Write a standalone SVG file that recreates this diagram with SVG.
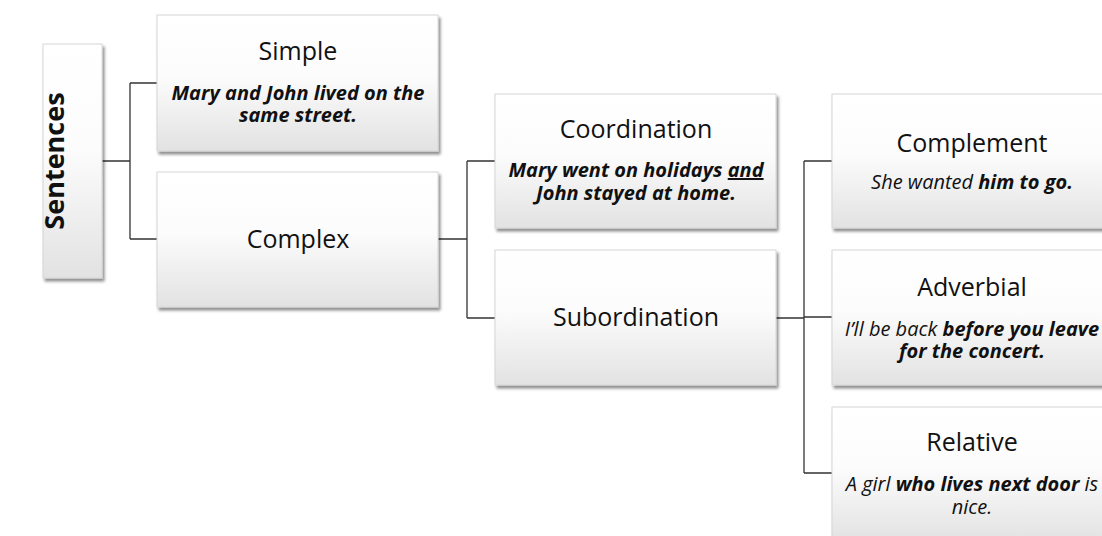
<svg xmlns="http://www.w3.org/2000/svg" width="1102" height="536" viewBox="0 0 1102 536">
<defs>
<linearGradient id="g" x1="0" y1="0" x2="0" y2="1">
<stop offset="0" stop-color="#ffffff"/>
<stop offset="0.45" stop-color="#fcfcfc"/>
<stop offset="1" stop-color="#e2e2e2"/>
</linearGradient>
<filter id="sh" x="-10%" y="-10%" width="130%" height="130%">
<feGaussianBlur in="SourceAlpha" stdDeviation="1.5"/>
<feOffset dx="1.5" dy="2.5" result="b"/>
<feComponentTransfer><feFuncA type="linear" slope="0.45"/></feComponentTransfer>
<feMerge><feMergeNode/><feMergeNode in="SourceGraphic"/></feMerge>
</filter>
</defs>
<style>
.box{fill:url(#g);stroke:#d6d6d6;stroke-width:1;filter:url(#sh)}
.t{font-family:"Open Sans","Liberation Sans",sans-serif;font-size:25px;fill:#111;text-anchor:middle}
.s{font-family:"Open Sans","Liberation Sans",sans-serif;font-size:20px;fill:#111;text-anchor:middle;font-style:italic}
.b{font-weight:bold}
.c{fill:none;stroke:#333;stroke-width:1.3}
</style>
<rect width="1102" height="536" fill="#ffffff"/>
<g id="connectors">
<path class="c" d="M102 161 H130 M130 83 V239 M130 83 H157 M130 239 H157"/>
<path class="c" d="M438 239 H467 M467 161 V318 M467 161 H495 M467 318 H495"/>
<path class="c" d="M776 318 H804 M804 161 V473 M804 161 H832 M804 317 H832 M804 473 H832"/>
</g>
<g id="sentences">
<rect class="box" x="43" y="44" width="59" height="234"/>
<text class="t b" transform="translate(64 161) rotate(-90)" style="font-size:27px">Sentences</text>
</g>
<g id="simple">
<rect class="box" x="157" y="15" width="281" height="136"/>
<text class="t" x="298" y="60">Simple</text>
<text class="s b" x="298" y="100">Mary and John lived on the</text>
<text class="s b" x="298" y="122">same street.</text>
</g>
<g id="complex">
<rect class="box" x="157" y="172" width="281" height="135"/>
<text class="t" x="298" y="248">Complex</text>
</g>
<g id="coordination">
<rect class="box" x="495" y="94" width="281" height="134"/>
<text class="t" x="636" y="138">Coordination</text>
<text class="s b" x="636" y="177">Mary went on holidays <tspan text-decoration="underline">and</tspan></text>
<text class="s b" x="636" y="200">John stayed at home.</text>
</g>
<g id="subordination">
<rect class="box" x="495" y="250" width="281" height="135"/>
<text class="t" x="636" y="326">Subordination</text>
</g>
<g id="complement">
<rect class="box" x="832" y="94" width="281" height="134"/>
<text class="t" x="972" y="152">Complement</text>
<text class="s" x="972" y="189">She wanted <tspan class="b">him to go.</tspan></text>
</g>
<g id="adverbial">
<rect class="box" x="832" y="250" width="281" height="135"/>
<text class="t" x="972" y="296">Adverbial</text>
<text class="s" x="972" y="336">I’ll be back <tspan class="b">before you leave</tspan></text>
<text class="s b" x="972" y="358">for the concert.</text>
</g>
<g id="relative">
<rect class="box" x="832" y="407" width="281" height="135"/>
<text class="t" x="972" y="451">Relative</text>
<text class="s" x="972" y="491">A girl <tspan class="b">who lives next door</tspan> is</text>
<text class="s" x="972" y="514">nice.</text>
</g>
</svg>
